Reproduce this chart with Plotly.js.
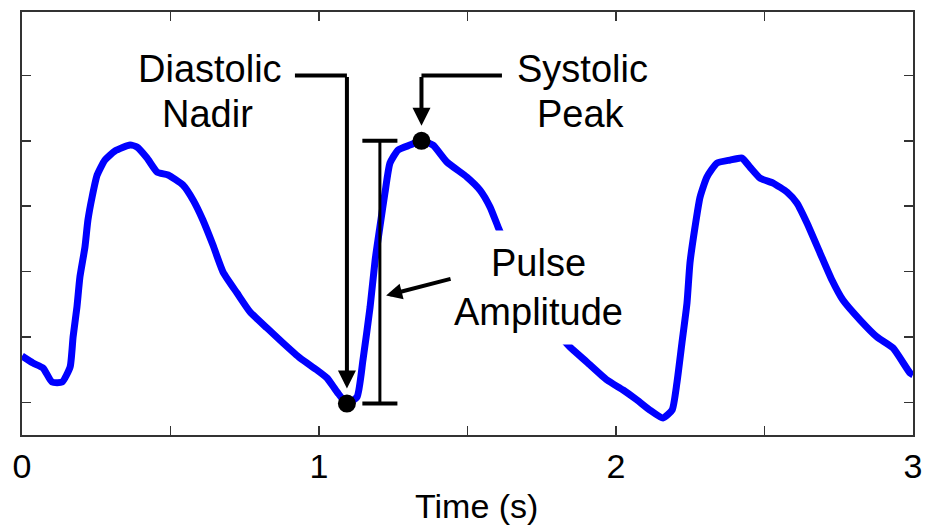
<!DOCTYPE html>
<html>
<head>
<meta charset="utf-8">
<script src="https://cdn.plot.ly/plotly-3.0.1.min.js"></script>
<style>html,body{margin:0;padding:0;background:#fff;}#chart{width:925px;height:526px;}</style>
</head>
<body>
<div id="chart"></div>
<script>
// Pulse waveform (time in s, signal in arbitrary tick units)
const time = [0.000, 0.037, 0.071, 0.101, 0.135, 0.162, 0.172, 0.185, 0.195, 0.212,
  0.222, 0.236, 0.253, 0.279, 0.313, 0.364, 0.387, 0.421, 0.455, 0.492,
  0.542, 0.576, 0.609, 0.643, 0.677, 0.724, 0.768, 0.825, 0.879, 0.936,
  0.993, 1.027, 1.061, 1.094, 1.128, 1.148, 1.172, 1.189, 1.205, 1.222,
  1.239, 1.266, 1.306, 1.345, 1.384, 1.431, 1.498, 1.542, 1.576, 1.603,
  1.643, 1.684, 1.734, 1.788, 1.845, 1.902, 1.970, 2.024, 2.071, 2.114,
  2.158, 2.189, 2.205, 2.222, 2.239, 2.249, 2.266, 2.283, 2.306, 2.340,
  2.384, 2.424, 2.451, 2.485, 2.529, 2.576, 2.609, 2.643, 2.687, 2.727,
  2.764, 2.822, 2.879, 2.933, 2.990, 3.000];
const signal = [0.708, 0.601, 0.524, 0.310, 0.310, 0.540, 0.999, 1.457, 1.916, 2.375,
  2.787, 3.139, 3.476, 3.705, 3.843, 3.934, 3.904, 3.736, 3.522, 3.476,
  3.323, 3.094, 2.788, 2.405, 1.992, 1.671, 1.381, 1.136, 0.907, 0.677,
  0.494, 0.372, 0.158, -0.020, 0.081, 0.647, 1.457, 2.176, 2.681, 3.200,
  3.659, 3.858, 3.934, 4.000, 3.934, 3.674, 3.445, 3.246, 2.986, 2.680,
  2.252, 1.824, 1.488, 1.151, 0.845, 0.616, 0.341, 0.188, 0.035, -0.118,
  -0.240, -0.118, 0.295, 0.907, 1.518, 2.130, 2.680, 3.139, 3.445, 3.659,
  3.705, 3.735, 3.598, 3.430, 3.353, 3.216, 3.048, 2.742, 2.283, 1.870,
  1.564, 1.258, 0.998, 0.830, 0.448, 0.420];
const xTickVals = [0, 0.5, 1, 1.5, 2, 2.5, 3];
const xTickText = ['0', '', '1', '', '2', '', '3'];
const yTickVals = [0, 1, 2, 3, 4, 5];

// find nadir and peak from the data
function extremeIn(lo, hi, wantMax) {
  let best = -1;
  for (let i = 0; i < time.length; i++) {
    if (time[i] < lo || time[i] > hi) continue;
    if (best < 0 || (wantMax ? signal[i] > signal[best] : signal[i] < signal[best])) best = i;
  }
  return best;
}
const iN = extremeIn(0.9, 1.3, false);
const iP = extremeIn(1.2, 1.6, true);
const nadirX = time[iN], nadirY = signal[iN];
const peakX = time[iP], peakY = signal[iP];

const FONT = 'Liberation Sans, Arial, Helvetica, sans-serif';
const barX = 1.205, capHalf = 0.059, elbowY = 5;
const TXT = {family: FONT, size: 38, color: '#000'};

const traces = [
  {x: time, y: signal, mode: 'lines', line: {color: '#0000ff', width: 7, shape: 'spline', smoothing: 0.5}, hoverinfo: 'skip'},
  {x: [nadirX, peakX], y: [nadirY, peakY], mode: 'markers',
   marker: {color: '#000', size: 18}, hoverinfo: 'skip'}
];

const shapes = [
  {type: 'line', xref: 'x', yref: 'y', x0: 0.919, x1: nadirX, y0: elbowY, y1: elbowY, line: {color: '#000', width: 4}},
  {type: 'line', xref: 'x', yref: 'y', x0: 1.616, x1: peakX, y0: elbowY, y1: elbowY, line: {color: '#000', width: 4}},
  {type: 'line', xref: 'x', yref: 'y', x0: barX, x1: barX, y0: nadirY, y1: peakY, line: {color: '#000', width: 3}},
  {type: 'line', xref: 'x', yref: 'y', x0: barX - capHalf, x1: barX + capHalf, y0: peakY, y1: peakY, line: {color: '#000', width: 4}},
  {type: 'line', xref: 'x', yref: 'y', x0: barX - capHalf, x1: barX + capHalf, y0: nadirY, y1: nadirY, line: {color: '#000', width: 4}}
];

function label(x, y, t) {
  return {x: x, y: y, xref: 'x', yref: 'y', text: t, showarrow: false, font: TXT,
          xanchor: 'center', yanchor: 'middle'};
}

const annotations = [
  {x: 1.738, y: 1.755, xref: 'x', yref: 'y', text: 'Pulse<br>Amplitude', showarrow: false,
   font: TXT, xanchor: 'center', yanchor: 'middle',
   bgcolor: '#ffffff', width: 185, height: 95, borderpad: 9},
  {x: nadirX, y: nadirY, ax: nadirX, ay: elbowY, axref: 'x', ayref: 'y', xref: 'x', yref: 'y',
   text: '', showarrow: true, arrowhead: 2, arrowsize: 0.9, arrowwidth: 4, arrowcolor: '#000', standoff: 15},
  {x: peakX, y: peakY, ax: peakX, ay: elbowY, axref: 'x', ayref: 'y', xref: 'x', yref: 'y',
   text: '', showarrow: true, arrowhead: 2, arrowsize: 0.9, arrowwidth: 4, arrowcolor: '#000', standoff: 15},
  {x: 1.226, y: 1.634, ax: 1.448, ay: 1.893, axref: 'x', ayref: 'y', xref: 'x', yref: 'y',
   text: '', showarrow: true, arrowhead: 2, arrowsize: 0.8, arrowwidth: 4, arrowcolor: '#000'},
  label(0.633, 5.104, 'Diastolic'),
  label(0.626, 4.416, 'Nadir'),
  label(1.886, 5.104, 'Systolic'),
  label(1.883, 4.416, 'Peak'),
  {x: 0.51, y: -0.167, xref: 'paper', yref: 'paper', text: 'Time (s)', showarrow: false,
   font: {family: FONT, size: 34, color: '#000'}, xanchor: 'center', yanchor: 'middle'}
];

const layout = {
  width: 925, height: 526,
  margin: {l: 22, r: 12, t: 12, b: 91},
  paper_bgcolor: '#fff', plot_bgcolor: '#fff',
  showlegend: false,
  font: {family: FONT, color: '#000'},
  xaxis: {
    range: [0, 3], tickvals: xTickVals, ticktext: xTickText,
    ticks: 'inside', ticklen: 9, tickwidth: 1.5, tickcolor: '#333',
    showline: true, linecolor: '#333', linewidth: 2, mirror: 'ticks',
    showgrid: false, zeroline: false,
    tickfont: {family: FONT, size: 34, color: '#000'}
  },
  yaxis: {
    range: [-0.5, 5.97], tickvals: yTickVals, showticklabels: false,
    ticks: 'inside', ticklen: 9, tickwidth: 1.5, tickcolor: '#333',
    showline: true, linecolor: '#333', linewidth: 2, mirror: 'ticks',
    showgrid: false, zeroline: false
  },
  shapes: shapes,
  annotations: annotations
};

Plotly.newPlot('chart', traces, layout, {staticPlot: true, displayModeBar: false});
</script>
</body>
</html>
